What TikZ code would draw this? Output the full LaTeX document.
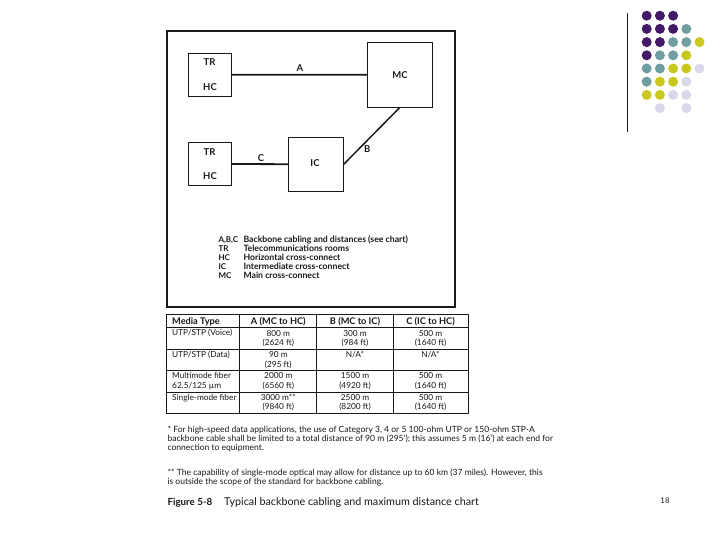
\documentclass[tikz,border=0pt]{standalone}
\usepackage{fontspec}
\setmainfont{Lato}
\definecolor{dpurp}{RGB}{66,26,104}
\definecolor{dteal}{RGB}{112,158,160}
\definecolor{dyel}{RGB}{202,200,30}
\definecolor{dlav}{RGB}{216,216,234}
\definecolor{ink}{RGB}{25,25,25}
\tikzset{
  box/.style={draw=ink, line width=1pt, inner sep=0pt},
  lbl/.style={inner sep=0pt, font=\fontsize{9.5}{10}\selectfont\bfseries, text=ink},
  leg/.style={inner sep=0pt, anchor=mid west, font=\fontsize{8.7}{10}\selectfont\bfseries, text=ink},
  legkey/.style={inner sep=0pt, anchor=mid west, font=\fontsize{8}{10}\selectfont\bfseries, text=ink},
  cable/.style={draw=ink, line width=1.8pt},
  cell/.style={inner sep=0pt, font=\fontsize{8.3}{10}\selectfont, text=ink},
  hcell/.style={inner sep=0pt, font=\fontsize{9.2}{10}\selectfont\bfseries, text=ink},
  note/.style={inner sep=0pt, anchor=mid west, font=\fontsize{8.55}{10}\selectfont, text=ink},
  dot/.style={circle, inner sep=0pt, minimum size=10pt},
  grid/.style={draw=ink, line width=0.9pt}
}
\begin{document}
\begin{tikzpicture}[x=1pt,y=-1pt]
\useasboundingbox (0,0) rectangle (720,540);
\fill[white] (0,0) rectangle (720,540);
% decoration at top right
\draw[ink, line width=1pt] (627,13) -- (627,132);
\foreach \r/\c/\col [count=\i] in {
  0/0/dpurp,0/1/dpurp,0/2/dpurp,
  1/0/dpurp,1/1/dpurp,1/2/dpurp,1/3/dteal,
  2/0/dpurp,2/1/dpurp,2/2/dteal,2/3/dteal,2/4/dyel,
  3/0/dpurp,3/1/dteal,3/2/dteal,3/3/dyel,
  4/0/dteal,4/1/dteal,4/2/dyel,4/3/dyel,4/4/dlav,
  5/0/dteal,5/1/dyel,5/2/dyel,5/3/dlav,
  6/0/dyel,6/1/dyel,6/2/dlav,6/3/dlav,
  7/1/dlav,7/3/dlav}
  \node[dot, fill=\col] (dot\i) at ({646.7+13.2*\c},{15.7+13.2*\r}) {};
% frame
\draw[ink, line width=1.3pt] (167,31) rectangle (455,307);
% boxes
\node[box, minimum width=43pt, minimum height=43pt] (tr1) at (209.8,74.8) {};
\node[box, minimum width=64.7pt, minimum height=64.7pt] (mc) at (399.7,74.7) {};
\node[box, minimum width=43pt, minimum height=43.4pt] (tr2) at (209.8,164) {};
\node[box, minimum width=55pt, minimum height=53.7pt] (ic) at (315.8,164.2) {};
\node[lbl] (tr1a) at (209.5,62.3) {TR};
\node[lbl] (tr1b) at (210,86.7) {HC};
\node[lbl] (mct) at (400,75) {MC};
\node[lbl] (tr2a) at (209.5,151.7) {TR};
\node[lbl] (tr2b) at (210,175.7) {HC};
\node[lbl] (ict) at (315,163.3) {IC};
% cables
\draw[cable] (tr1.east) -- (mc.west);
\draw[cable] (tr2.east) -- (ic.west);
\draw[draw=ink, line width=1.5pt] (ic.east) -- (mc.south);
\node[lbl] (la) at (300,68.3) {A};
\node[lbl] (lc) at (261,157.7) {C};
\node[lbl] (lb) at (367.3,149) {B};
% legend
\foreach \k/\t/\d [count=\i] in {
  {A,B,C}/{Backbone cabling and distances (see chart)}/240,
  TR/{Telecommunications rooms}/249,
  HC/{Horizontal cross-connect}/258,
  IC/{Intermediate cross-connect}/266.7,
  MC/{Main cross-connect}/275.7}{
  \node[legkey] (legk\i) at (218.3,\d) {\k};
  \node[leg] (legt\i) at (243.3,\d) {\t};
}
% table
\draw[grid, line width=1.2pt] (166.7,314.3) rectangle (468.3,413.3);
\draw[grid] (166.7,327.7) -- (468.3,327.7);
\draw[grid] (166.7,349) -- (468.3,349);
\draw[grid] (166.7,370.7) -- (468.3,370.7);
\draw[grid] (166.7,392.3) -- (468.3,392.3);
\draw[grid] (239.3,314.3) -- (239.3,413.3);
\draw[grid] (316.7,314.3) -- (316.7,413.3);
\draw[grid] (393.3,314.3) -- (393.3,413.3);
\node[hcell, anchor=mid west] (h0) at (172,321.5) {Media Type};
\node[hcell] (h1) at (278.3,321.5) {A (MC to HC)};
\node[hcell] (h2) at (355,321.5) {B (MC to IC)};
\node[hcell] (h3) at (430.5,321.5) {C (IC to HC)};
% rows
\node[cell, anchor=mid west] (m1) at (172,333.3) {UTP/STP (Voice)};
\node[cell, anchor=mid west] (m2) at (172,355) {UTP/STP (Data)};
\node[cell, anchor=mid west] (m3a) at (172,375.7) {Multimode fiber};
\node[cell, anchor=mid west] (m3b) at (172,386) {62.5/125 µm};
\node[cell, anchor=mid west] (m4) at (172,397.7) {Single-mode fiber};
\foreach \x/\ya/\yb/\ta/\tb/\n in {
  278.3/333.3/343.3/800 m/(2624 ft)/a1,
  355/333.3/343.3/300 m/(984 ft)/b1,
  430.5/333.3/343.3/500 m/(1640 ft)/c1,
  278.3/355/364.5/90 m/(295 ft)/a2,
  278.3/375.7/386/2000 m/(6560 ft)/a3,
  355/375.7/386/1500 m/(4920 ft)/b3,
  430.5/375.7/386/500 m/(1640 ft)/c3,
  278.3/397.7/407.3/3000 m**/(9840 ft)/a4,
  355/397.7/407.3/2500 m/(8200 ft)/b4,
  430.5/397.7/407.3/500 m/(1640 ft)/c4}{
  \node[cell] (\n x) at (\x,\ya) {\ta};
  \node[cell] (\n y) at (\x,\yb) {\tb};
}
\node[cell] (b2) at (355,355) {N/A*};
\node[cell] (c2) at (430.5,355) {N/A*};
% footnotes
\node[note] (f1) at (167.3,430) {* For high-speed data applications, the use of Category 3, 4 or 5 100-ohm UTP or 150-ohm STP-A};
\node[note] (f2) at (167.3,439) {backbone cable shall be limited to a total distance of 90 m (295'); this assumes 5 m (16') at each end for};
\node[note] (f3) at (167.3,448.3) {connection to equipment.};
\node[note] (f4) at (167.3,473.3) {** The capability of single-mode optical may allow for distance up to 60 km (37 miles). However, this};
\node[note] (f5) at (167.3,482.3) {is outside the scope of the standard for backbone cabling.};
% caption
\node[inner sep=0pt, anchor=mid west, font=\fontsize{9.8}{12}\selectfont\bfseries, text=ink] (capa) at (167.3,503) {Figure 5-8};
\node[inner sep=0pt, anchor=mid west, font=\fontsize{10.75}{12}\selectfont, text=ink] (capb) at (224,503) {Typical backbone cabling and maximum distance chart};
\node[inner sep=0pt, font=\fontsize{7.8}{9}\selectfont, text=ink] (pg) at (665,501) {18};
\end{tikzpicture}
\end{document}
